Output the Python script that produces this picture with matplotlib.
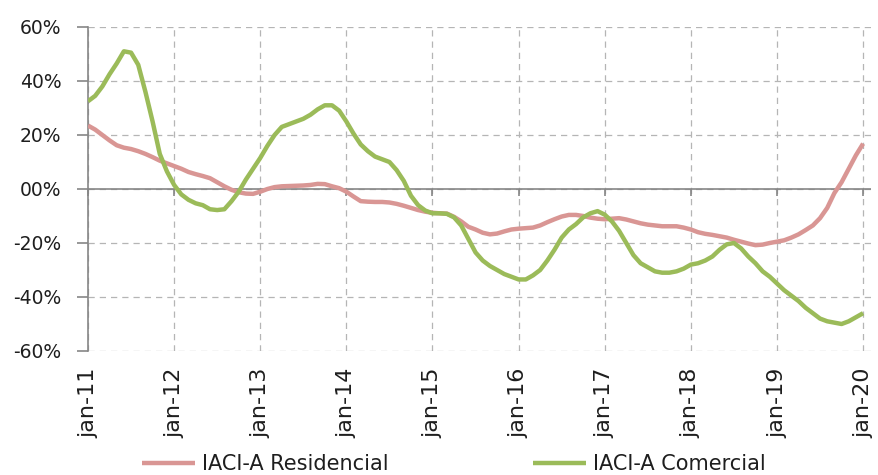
import matplotlib
matplotlib.use('Agg')
import numpy as np
import matplotlib.pyplot as plt

# monthly values, jan-11 .. jan-20 (%)
residencial = [
    # 2011
    23.5, 22.0, 20.0, 18.0, 16.2, 15.3, 14.8, 14.0, 13.0, 11.8, 10.5, 9.5,
    # 2012
    8.5, 7.5, 6.3, 5.5, 4.8, 4.0, 2.5, 1.0, -0.3, -1.2, -1.7, -1.8,
    # 2013
    -1.0, 0.0, 0.7, 1.0, 1.1, 1.2, 1.3, 1.5, 1.9, 1.8, 1.0, 0.3,
    # 2014
    -1.0, -2.8, -4.5, -4.7, -4.8, -4.8, -5.0, -5.5, -6.2, -7.0, -7.8, -8.4,
    # 2015
    -8.8, -9.0, -9.1, -10.3, -12.0, -14.0, -15.0, -16.2, -16.8, -16.5, -15.7, -15.0,
    # 2016
    -14.7, -14.5, -14.3, -13.5, -12.3, -11.2, -10.2, -9.6, -9.6, -10.0, -10.6, -11.0,
    # 2017
    -11.2, -11.0, -10.8, -11.3, -12.0, -12.7, -13.2, -13.5, -13.8, -13.8, -13.8, -14.3,
    # 2018
    -15.0, -16.0, -16.6, -17.0, -17.5, -18.0, -18.8, -19.5, -20.2, -20.8, -20.6, -20.0,
    # 2019
    -19.5, -19.0, -18.0, -16.8, -15.2, -13.5, -10.8, -7.0, -1.5, 2.5, 7.5, 12.5,
    # 2020
    16.8]

comercial = [
    # 2011
    32.5, 34.5, 38.0, 42.5, 46.5, 51.0, 50.5, 46.0, 36.0, 25.0, 13.0, 6.5,
    # 2012
    1.5, -2.0, -4.0, -5.3, -6.0, -7.5, -7.8, -7.5, -4.5, -1.0, 3.5, 7.5,
    # 2013
    11.5, 16.0, 20.0, 23.0, 24.0, 25.0, 26.0, 27.5, 29.5, 31.0, 31.0, 29.0,
    # 2014
    25.0, 20.5, 16.5, 14.0, 12.0, 11.0, 10.0, 7.0, 3.0, -2.5, -6.0, -8.0,
    # 2015
    -9.0, -9.0, -9.2, -10.5, -13.5, -18.5, -23.5, -26.5, -28.5, -30.0, -31.5, -32.5,
    # 2016
    -33.5, -33.5, -32.0, -30.0, -26.5, -22.5, -18.0, -15.0, -13.0, -10.5, -9.0, -8.2,
    # 2017
    -9.5, -12.0, -15.5, -20.0, -24.5, -27.5, -29.0, -30.5, -31.0, -31.0, -30.5, -29.5,
    # 2018
    -28.0, -27.5, -26.5, -25.0, -22.5, -20.5, -20.0, -22.0, -25.0, -27.5, -30.5, -32.5,
    # 2019
    -35.0, -37.5, -39.5, -41.5, -44.0, -46.0, -48.0, -49.0, -49.5, -50.0, -49.0, -47.5,
    # 2020
    -46.0]

year_labels = ['jan-11', 'jan-12', 'jan-13', 'jan-14', 'jan-15',
               'jan-16', 'jan-17', 'jan-18', 'jan-19', 'jan-20']
y_ticks = [-60, -40, -20, 0, 20, 40, 60]
y_labels = ['-60%', '-40%', '-20%', '00%', '20%', '40%', '60%']

x = np.arange(len(residencial))
xticks = np.arange(0, len(residencial), 12)

gray = '#868686'
grid_gray = '#b5b5b5'
txt = '#1e1e1e'

fig = plt.figure(figsize=(8.79, 4.75), dpi=100)
ax = fig.add_axes([88/879, 1 - 351/475, (871 - 88)/879, (351 - 27)/475])

ax.plot(x, residencial, color='#d99694', lw=3.2, solid_capstyle='butt', label='IACI-A Residencial', zorder=3)
ax.plot(x, comercial, color='#9bbb59', lw=3.2, solid_capstyle='butt', label='IACI-A Comercial', zorder=4)

ax.set_xlim(0, 109.1)
ax.set_ylim(-60, 60)
ax.set_yticks(y_ticks)
ax.set_yticklabels(y_labels)
ax.set_xticks(xticks)
ax.set_xticklabels(year_labels, rotation=90)

ax.grid(True, color=grid_gray, ls=(0, (5, 4)), lw=0.9, zorder=0)
ax.set_axisbelow(True)

for s in ['top', 'right', 'bottom']:
    ax.spines[s].set_visible(False)
ax.spines['left'].set_color(gray)
ax.spines['left'].set_linewidth(1.2)

ax.tick_params(axis='y', direction='out', length=8, width=1.2, color=gray,
               labelsize=13.5, labelcolor=txt, pad=11)
ax.tick_params(axis='x', length=0, labelsize=16, labelcolor=txt, pad=12)

# zero line with small tick marks at each year
ax.axhline(0, color=gray, lw=1.2, zorder=2)
ax.plot(xticks, np.zeros(len(xticks)), ls='none', marker=3, ms=5, mew=1.2,
        color=gray, zorder=2, clip_on=False)

fig.legend(loc='center left', bbox_to_anchor=(142/879, 11/475), ncol=2, frameon=False,
           fontsize=15, handlelength=2.55, handletextpad=0.35, columnspacing=6.9,
           borderpad=0, borderaxespad=0, labelcolor=txt)

fig.savefig('out.png', dpi=100)
